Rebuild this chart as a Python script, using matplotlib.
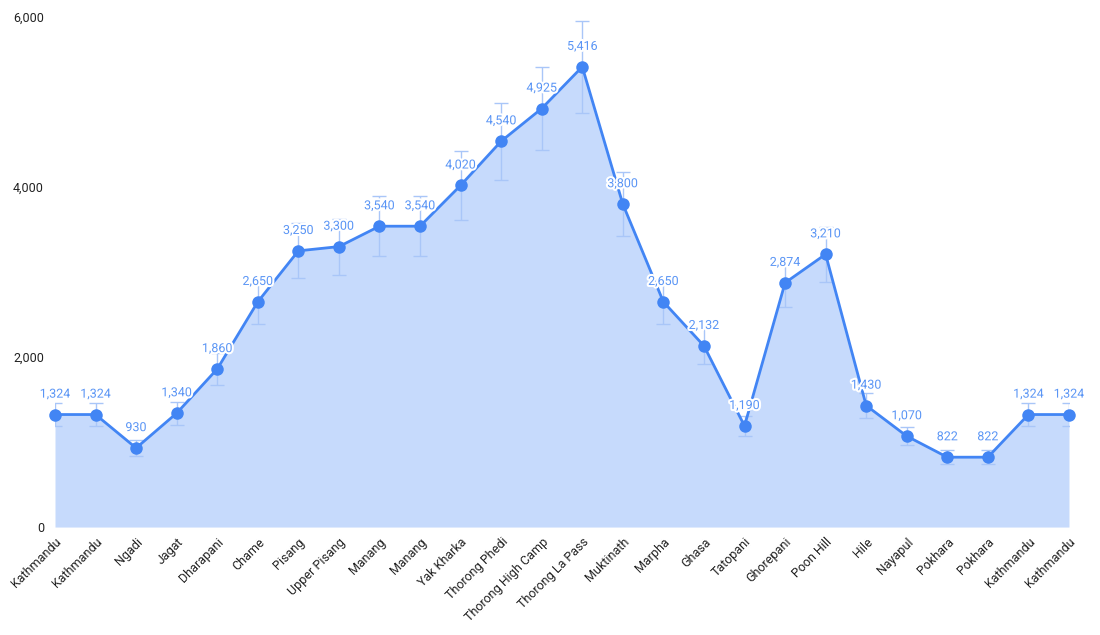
import matplotlib.pyplot as plt
import matplotlib.patheffects as pe

plt.rcParams['font.family'] = ['Roboto', 'DejaVu Sans']

# Trek stops and altitudes (m)
stops = ["Kathmandu", "Kathmandu", "Ngadi", "Jagat", "Dharapani", "Chame", "Pisang",
         "Upper Pisang", "Manang", "Manang", "Yak Kharka", "Thorong Phedi",
         "Thorong High Camp", "Thorong La Pass", "Muktinath", "Marpha", "Ghasa",
         "Tatopani", "Ghorepani", "Poon Hill", "Hile", "Nayapul", "Pokhara",
         "Pokhara", "Kathmandu", "Kathmandu"]
altitude = [1324, 1324, 930, 1340, 1860, 2650, 3250, 3300, 3540, 3540, 4020, 4540,
            4925, 5416, 3800, 2650, 2132, 1190, 2874, 3210, 1430, 1070, 822, 822,
            1324, 1324]
# error bar half-widths
err = [132, 132, 93, 134, 186, 265, 325, 330, 354, 354, 402, 454, 492, 542, 380,
       265, 213, 119, 287, 321, 143, 107, 82, 82, 132, 132]

line_col = '#4285F4'
fill_col = '#c6dafc'
x = list(range(len(stops)))

fig = plt.figure(figsize=(11, 6.35), dpi=100)
ax = fig.add_axes([0.05, 0.170, 0.9218, 0.803])

ax.fill_between(x, 0, altitude, color=fill_col, linewidth=0, zorder=1)
ax.errorbar(x, altitude, yerr=err, fmt='none', ecolor='#a9c6f8', elinewidth=1,
            capsize=5, capthick=1, zorder=2)
ax.plot(x, altitude, color=line_col, linewidth=2, marker='o', markersize=9,
        markeredgewidth=0, zorder=3, clip_on=False)

for xi, v in zip(x, altitude):
    ax.annotate(f"{v:,}", (xi, v), xytext=(0, 10), textcoords='offset points',
                ha='center', va='bottom', fontsize=9, color='#5a95f5', zorder=4,
                path_effects=[pe.withStroke(linewidth=3, foreground='white')])

ax.set_xlim(0, len(stops) - 1)
ax.set_ylim(0, 6000)
ax.set_yticks([0, 2000, 4000, 6000])
ax.set_yticklabels([f"{t:,}" for t in [0, 2000, 4000, 6000]], fontsize=9, color='#222222')
ax.set_xticks(x)
ax.set_xticklabels(stops, rotation=45, ha='right', rotation_mode='anchor',
                   fontsize=9, color='#222222')
ax.tick_params(axis='both', length=0)
ax.tick_params(axis='y', pad=8)
ax.tick_params(axis='x', pad=6)
for s in ax.spines.values():
    s.set_visible(False)

fig.savefig('out.png', dpi=100, facecolor='white')
